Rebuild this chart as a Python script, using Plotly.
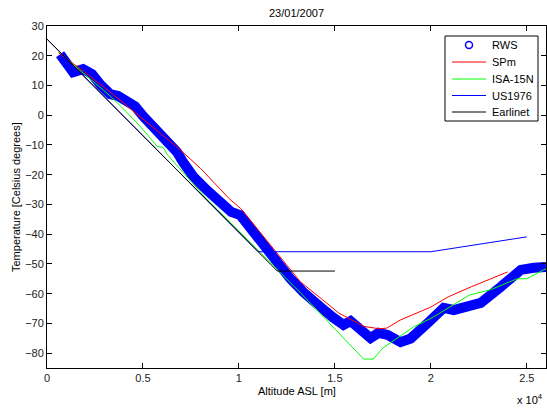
import plotly.graph_objects as go

# RWS radiosonde profile (altitude m, temperature C)
rws_alt = [680, 1360, 1880, 2350, 2770, 3290, 3700, 4070, 4590, 5010, 5380, 5900, 6420,
           6785, 7100, 7620, 8350, 9029, 9600, 10073, 10595, 11273, 12004, 12683, 13361,
           13883, 14249, 14900, 15449, 15814, 16180, 16858, 17275, 17745, 18424, 18946,
           19833, 20668, 21190, 22000, 22600, 23643, 24687, 25365, 26000]
rws_temp = [20.5, 14.5, 15.5, 13.8, 10.4, 7.1, 6.5, 5.4, 3.0, -0.3, -2.8, -5.8, -9.0,
            -12.5, -15.9, -20.6, -25.3, -29.4, -32.5, -33.6, -38.0, -44.0, -49.6, -55.0, -59.5,
            -62.8, -64.5, -68.0, -70.5, -69.2, -71.6, -74.9, -73.2, -73.9, -76.3, -75.1,
            -69.9, -64.8, -65.5, -64.5, -63.1, -57.7, -52.0, -51.3, -51.0]

# SPm model
spm_alt = [600, 1900, 3300, 4850, 6800, 8000, 9550, 10100, 11700, 13200, 14350, 15200,
           16500, 17300, 17700, 18400, 20000, 20900, 22100, 24000]
spm_temp = [21.0, 14.8, 7.7, -0.4, -10.8, -17.9, -28.4, -31.4, -44.0, -56.0, -62.0, -66.5,
            -71.0, -71.8, -71.6, -68.9, -64.5, -61.1, -57.7, -52.7]

# ISA-15N
isa_alt = [0, 1200, 2766, 3300, 4000, 4850, 5740, 6050, 6260, 6940, 8350, 8873, 13205,
           16500, 17000, 17500, 19100, 20150, 22000, 23100, 24500, 25000, 26000]
isa_temp = [25.6, 17.9, 9.4, 6.4, 2.0, -3.7, -10.5, -10.8, -13.2, -18.2, -28.4, -31.7, -59.7,
            -82.0, -82.0, -78.3, -71.2, -67.8, -60.5, -58.7, -55.0, -55.0, -51.6]

# US1976
us_alt = [0, 11000, 20000, 25000]
us_temp = [25.6, -45.9, -45.9, -40.9]

# Earlinet
ear_alt = [0, 12000, 15000]
ear_temp = [25.6, -52.4, -52.4]

legend_names = ["RWS", "SPm", "ISA-15N", "US1976", "Earlinet"]

xtick_vals = [0, 5000, 10000, 15000, 20000, 25000]
xtick_text = ["0", "0.5", "1", "1.5", "2", "2.5"]
ytick_vals = list(range(-80, 31, 10))

FONT = "Liberation Sans, Arial, sans-serif"
W, H = 547, 408
ML, MR, MT, MB = 47, 1, 26, 40
PW, PH = W - ML - MR, H - MT - MB


def px(x):
    return (x - ML) / PW


def py(y):
    return 1 - (y - MT) / PH


fig = go.Figure()
fig.add_trace(go.Scatter(x=rws_alt, y=rws_temp, mode="lines", name=legend_names[0],
                         line=dict(color="#0000ff", width=10), hoverinfo="skip"))
fig.add_trace(go.Scatter(x=spm_alt, y=spm_temp, mode="lines", name=legend_names[1],
                         line=dict(color="#ff0000", width=1)))
fig.add_trace(go.Scatter(x=isa_alt, y=isa_temp, mode="lines", name=legend_names[2],
                         line=dict(color="#00ff00", width=1)))
fig.add_trace(go.Scatter(x=us_alt, y=us_temp, mode="lines", name=legend_names[3],
                         line=dict(color="#0000ff", width=1)))
fig.add_trace(go.Scatter(x=ear_alt, y=ear_temp, mode="lines", name=legend_names[4],
                         line=dict(color="#000000", width=1)))

# Compact MATLAB-style legend box
shapes = [dict(type="rect", xref="paper", yref="paper", x0=px(445), x1=px(538),
               y0=py(121), y1=py(36), fillcolor="white", line=dict(color="black", width=1),
               layer="above")]
annotations = []
entry_y = [45, 62, 79, 95.5, 112]
colors = ["#0000ff", "#ff0000", "#00ff00", "#0000ff", "#000000"]
for i, (nm, c, ey) in enumerate(zip(legend_names, colors, entry_y)):
    if i == 0:
        shapes.append(dict(type="circle", xref="paper", yref="paper",
                           xsizemode="pixel", ysizemode="pixel",
                           xanchor=px(469), yanchor=py(ey), x0=-3.5, x1=3.5, y0=-3.5, y1=3.5,
                           line=dict(color=c, width=1.5), layer="above"))
    else:
        shapes.append(dict(type="line", xref="paper", yref="paper",
                           x0=px(452), x1=px(486), y0=py(ey), y1=py(ey),
                           line=dict(color=c, width=1), layer="above"))
    annotations.append(dict(text=nm, x=px(490), y=py(ey), xref="paper", yref="paper",
                            xanchor="left", yanchor="middle", showarrow=False,
                            font=dict(family=FONT, size=11, color="black")))

axis_common = dict(showline=True, linecolor="black", linewidth=1, mirror="ticks",
                   ticks="inside", ticklen=5, tickcolor="black", showgrid=False,
                   zeroline=False, tickfont=dict(family=FONT, size=11, color="#222"))

annotations += [
    dict(text="Altitude ASL [m]", x=0.5, y=0, xref="paper", yref="paper",
         xanchor="center", yanchor="top", yshift=-15, showarrow=False,
         font=dict(family=FONT, size=11)),
    dict(text="Temperature [Celsius degrees]", x=0, y=0.5, xref="paper", yref="paper",
         xanchor="center", yanchor="middle", xshift=-31, textangle=-90, showarrow=False,
         font=dict(family=FONT, size=11)),
    dict(text="x 10<sup>4</sup>", x=1, y=0, xref="paper", yref="paper",
         xanchor="right", yanchor="top", yshift=-22, xshift=-1, showarrow=False,
         font=dict(family=FONT, size=11)),
]

fig.update_layout(
    width=W, height=H,
    margin=dict(l=ML, r=MR, t=MT, b=MB),
    paper_bgcolor="white", plot_bgcolor="white",
    font=dict(family=FONT, size=11, color="black"),
    showlegend=False,
    title=dict(text="23/01/2007", x=(ML + W - MR) / 2 / W, xanchor="center",
               y=1 - 13 / H, yanchor="middle", font=dict(size=11, family=FONT)),
    xaxis=dict(range=[0, 26000], tickvals=xtick_vals, ticktext=xtick_text, **axis_common),
    yaxis=dict(range=[-85, 30], tickvals=ytick_vals, **axis_common),
    shapes=shapes,
    annotations=annotations,
)

fig.write_html("out.html", config={"displayModeBar": False},
               post_script="document.body.style.margin='0px';document.body.style.overflow='hidden';")
